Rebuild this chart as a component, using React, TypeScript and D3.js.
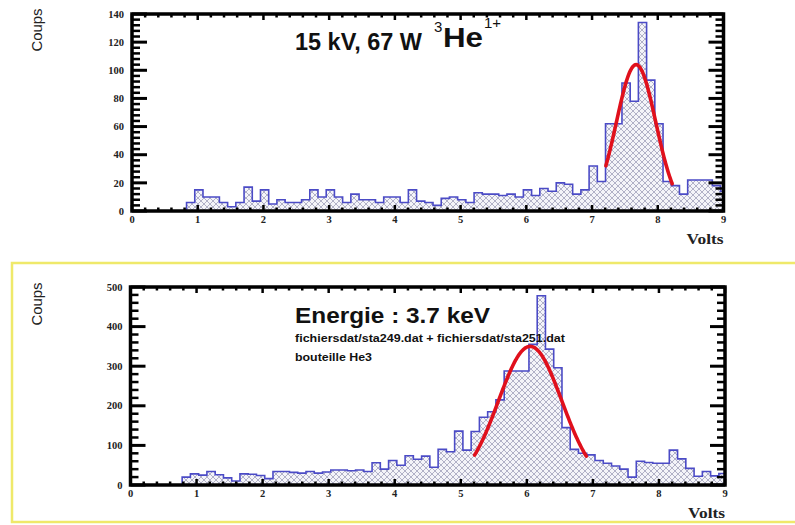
import React from "react";
import * as d3 from "d3";

// ---------- data ----------
const binWidth = 0.125;
const topBinStart = 0.83;
const bottomBinStart = 0.782;

const topCounts = [
  6, 15, 10, 10, 6, 3, 6, 17, 7, 15,
  5, 8, 6, 6, 8, 15, 10, 15, 10, 6,
  12, 8, 8, 6, 10, 10, 6, 15, 7, 6,
  4, 9, 10, 8, 6, 13, 12, 12, 11, 12,
  10, 15, 11, 16, 14, 20, 19, 12, 15, 32,
  21, 62, 62, 91, 78, 134, 93, 62, 21, 18,
  12, 22, 22, 22, 18, 14,
];

const bottomCounts = [
  20, 28, 25, 34, 26, 18, 10, 28, 27, 24,
  16, 34, 34, 32, 30, 34, 30, 33, 38, 38,
  36, 38, 34, 56, 40, 62, 50, 74, 65, 73,
  45, 90, 84, 136, 88, 135, 171, 185, 215, 288,
  288, 288, 355, 478, 343, 296, 145, 90, 80, 76,
  62, 55, 48, 40, 20, 60, 57, 55, 55, 88,
  66, 42, 22, 34, 23, 29,
];

const xTicks = [0, 1, 2, 3, 4, 5, 6, 7, 8, 9];
const topYTicks = [0, 20, 40, 60, 80, 100, 120, 140];
const bottomYTicks = [0, 100, 200, 300, 400, 500];

// gaussian fits: [mean, sigma, amplitude, from, to]
const topFit = [7.67, 0.3, 104, 7.21, 8.22];
const bottomFit = [6.05, 0.48, 350, 5.21, 6.9];

const infoLines = ["fichiersdat/sta249.dat + fichiersdat/sta251.dat", "bouteille He3"];

type PanelProps = {
  id: string;
  counts: number[];
  binStart: number;
  x0: number;
  x1: number;
  yTop: number;
  yBottom: number;
  yMax: number;
  yTicks: number[];
  yMinor: number;
  fit: number[];
  xLabelY: number;
  voltsY: number;
  coupsY: number;
};

function Panel(p: PanelProps) {
  const x = d3.scaleLinear().domain([0, 9]).range([p.x0, p.x1]);
  const y = d3.scaleLinear().domain([0, p.yMax]).range([p.yBottom, p.yTop]);

  const pts: [number, number][] = [[p.binStart, 0]];
  p.counts.forEach((c, i) => {
    const l = p.binStart + i * binWidth;
    pts.push([l, c], [l + binWidth, c]);
  });
  pts.push([p.binStart + p.counts.length * binWidth, 0]);
  const line = d3
    .line<[number, number]>()
    .x((d) => x(d[0]))
    .y((d) => y(d[1]));
  const histPath = line(pts) || "";

  const [mean, sigma, amp, from, to] = p.fit;
  const fitPts: [number, number][] = d3
    .range(from, to + 1e-6, 0.01)
    .map((v) => [v, amp * Math.exp(-0.5 * ((v - mean) / sigma) ** 2)] as [number, number]);
  const fitPath = line(fitPts) || "";

  const yMinorTicks = d3
    .range(0, p.yMax + 1e-6, p.yMinor)
    .filter((v) => !p.yTicks.includes(Math.round(v)));
  const xMinorTicks = d3.range(0, 9.0001, 0.2);

  const clipId = `clip-${p.id}`;
  const serif = "'Liberation Serif', 'DejaVu Serif', serif";

  return (
    <g>
      <defs>
        <clipPath id={clipId}>
          <rect x={p.x0} y={p.yTop} width={p.x1 - p.x0} height={p.yBottom - p.yTop} />
        </clipPath>
      </defs>
      <g clipPath={`url(#${clipId})`}>
        <path d={histPath} fill="#f4f4f9" stroke="none" />
        <path d={histPath} fill="url(#hatch)" stroke="none" />
        <path d={histPath} fill="none" stroke="#4b4bc6" strokeWidth={1.6} />
        <path d={fitPath} fill="none" stroke="#e0101c" strokeWidth={3.6} strokeLinecap="round" />
      </g>
      {/* frame */}
      <rect
        x={p.x0}
        y={p.yTop}
        width={p.x1 - p.x0}
        height={p.yBottom - p.yTop}
        fill="none"
        stroke="#000"
        strokeWidth={3.5}
      />
      {/* y ticks left and right */}
      {p.yTicks.map((t) => (
        <g key={`yt${t}`}>
          <line x1={p.x0} x2={p.x0 + 15} y1={y(t)} y2={y(t)} stroke="#000" strokeWidth={3} />
          <line x1={p.x1} x2={p.x1 - 15} y1={y(t)} y2={y(t)} stroke="#000" strokeWidth={3} />
          <text
            x={p.x0 - 8}
            y={y(t)}
            dy="0.35em"
            textAnchor="end"
            fontFamily={serif}
            fontWeight="bold"
            fontSize={10.5}
            fill="#222"
          >
            {t}
          </text>
        </g>
      ))}
      {yMinorTicks.map((t) => (
        <g key={`ym${t}`}>
          <line x1={p.x0} x2={p.x0 + 8} y1={y(t)} y2={y(t)} stroke="#000" strokeWidth={2.5} />
          <line x1={p.x1} x2={p.x1 - 8} y1={y(t)} y2={y(t)} stroke="#000" strokeWidth={2.5} />
        </g>
      ))}
      {/* x ticks */}
      {xMinorTicks.map((t, i) => {
        const major = i % 5 === 0;
        const len = major ? 6 : 3.5;
        return (
          <g key={`xm${i}`}>
            <line x1={x(t)} x2={x(t)} y1={p.yBottom} y2={p.yBottom - len} stroke="#000" strokeWidth={2.5} />
            <line x1={x(t)} x2={x(t)} y1={p.yTop} y2={p.yTop + len} stroke="#000" strokeWidth={2.5} />
          </g>
        );
      })}
      {xTicks.map((t) => (
        <text
          key={`xl${t}`}
          x={x(t)}
          y={p.xLabelY}
          textAnchor="middle"
          fontFamily={serif}
          fontWeight="bold"
          fontSize={10.5}
          fill="#222"
        >
          {t}
        </text>
      ))}
      <text
        x={p.x1}
        y={p.voltsY}
        textAnchor="end"
        fontFamily={serif}
        fontWeight="bold"
        fontSize={14}
        textLength={37}
        lengthAdjust="spacingAndGlyphs"
        fill="#222"
      >
        Volts
      </text>
      <text
        transform={`translate(42,${p.coupsY}) rotate(-90)`}
        textAnchor="middle"
        fontFamily="'Liberation Sans', Arial, sans-serif"
        fontSize={14}
        textLength={43}
        lengthAdjust="spacingAndGlyphs"
        fill="#222"
      >
        Coups
      </text>
    </g>
  );
}

export default function App() {
  const sans = "'Liberation Sans', Arial, sans-serif";
  return (
    <svg
      width={795}
      height={525}
      viewBox="0 0 795 525"
      style={{ position: "absolute", left: 0, top: 0, background: "#fff" }}
    >
      <defs>
        <pattern id="hatch" patternUnits="userSpaceOnUse" width={6} height={6}>
          <path
            d="M0,0 L6,6 M6,0 L0,6 M-1,5 L1,7 M5,-1 L7,1 M-1,1 L1,-1 M5,7 L7,5"
            stroke="#a0a0ba"
            strokeWidth={0.8}
          />
        </pattern>
      </defs>
      <rect x={0} y={0} width={795} height={525} fill="#fff" />

      {/* yellow frame around lower panel */}
      <rect x={12} y={263} width={790} height={259} fill="none" stroke="#efe96a" strokeWidth={2.5} />

      <Panel
        id="top"
        counts={topCounts}
        binStart={topBinStart}
        x0={132}
        x1={723.5}
        yTop={14}
        yBottom={211}
        yMax={140}
        yTicks={topYTicks}
        yMinor={4}
        fit={topFit}
        xLabelY={223}
        voltsY={244}
        coupsY={30}
      />
      <Panel
        id="bottom"
        counts={bottomCounts}
        binStart={bottomBinStart}
        x0={130.5}
        x1={725}
        yTop={287}
        yBottom={485}
        yMax={500}
        yTicks={bottomYTicks}
        yMinor={20}
        fit={bottomFit}
        xLabelY={497}
        voltsY={518}
        coupsY={304}
      />

      {/* top title */}
      <text x={295} y={50} fontFamily={sans} fontWeight="bold" fontSize={23} textLength={127} lengthAdjust="spacingAndGlyphs" fill="#111">
        15 kV, 67 W
      </text>
      <text x={434} y={32} fontFamily={sans} fontSize={15} fill="#111">
        3
      </text>
      <text x={443} y={47} fontFamily={sans} fontWeight="bold" fontSize={27} textLength={40} lengthAdjust="spacingAndGlyphs" fill="#111">
        He
      </text>
      <text x={484} y={28} fontFamily={sans} fontSize={15} fill="#111">
        1+
      </text>

      {/* bottom title */}
      <text x={295} y={323} fontFamily={sans} fontWeight="bold" fontSize={22} textLength={195} lengthAdjust="spacingAndGlyphs" fill="#111">
        Energie :  3.7 keV
      </text>
      <text x={295} y={342} fontFamily={sans} fontWeight="bold" fontSize={11} textLength={270} lengthAdjust="spacingAndGlyphs" fill="#111">
        {infoLines[0]}
      </text>
      <text x={295} y={361} fontFamily={sans} fontWeight="bold" fontSize={11} textLength={77} lengthAdjust="spacingAndGlyphs" fill="#111">
        {infoLines[1]}
      </text>
    </svg>
  );
}
